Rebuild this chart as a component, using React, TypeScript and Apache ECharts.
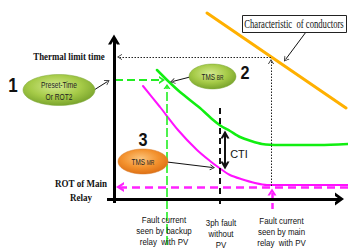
import React, { useEffect, useRef } from "react";
import * as echarts from "echarts";

// Diagram coordinates: x = fault current (origin at axes crossing), y = operating time
const greenCurve = [
  [43, 129], [53, 119], [66, 107], [86, 91], [98, 80], [107, 73], [116, 68],
  [126, 62], [137, 58], [148, 55], [166, 54], [206, 54], [234, 55],
];
const magentaCurve = [
  [29, 113], [46, 92], [64, 69], [83, 49], [96, 38], [104, 32], [116, 24],
  [127, 20], [141, 16], [153, 14], [186, 14], [234, 14],
];
const conductorLine = [[93, 186], [232, 91]];

const yAxisArrow = [[0, -4], [0, 159.5]];
const xAxisArrow = [[-7, 0], [225.5, 0]];
const thermalLimitArrow = [[157, 142], [5.5, 142]];
const thermalDrop = [[157, 13], [157, 137.5]];
const backupHoriz = [[1, 119], [48, 119]];
const backupVert = [[53, -46], [53, 112.5]];
const mainHoriz = [[234, 12], [6, 12]];
const mainVert = [[158, -10], [158, 7]];
const noPvVert = [[106, 91], [106, -9]];
const ctiArrow = [[111, 64.5], [111, 33.5]];
const presetPointer = [[-20, 109], [-6.5, 117.5]];
const tmsBrPointer = [[76, 122], [58.5, 117.5]];
const tmsMrPointer = [[53, 37], [98.5, 31.5]];
const conductorPointer = [[192, 167], [171.5, 139.5]];

const boldChevron = "path://M0,10L5,0L10,10L7.4,10L5,5.2L2.6,10Z";
const thinChevron = "path://M0,10L5,0L10,10L8.6,10L5,2.8L1.4,10Z";

function arrow(points: number[][], color: string, width: number, type: any, startSym: string, endSym: string, size: number[]) {
  return {
    type: "line",
    data: points,
    showSymbol: false,
    symbol: "none",
    silent: true,
    lineStyle: { opacity: 0 },
    markLine: {
      silent: true,
      animation: false,
      symbol: [startSym, endSym],
      symbolSize: size,
      label: { show: false },
      emphasis: { disabled: true },
      lineStyle: { color, width, type, opacity: 1 },
      data: [[{ coord: points[0] }, { coord: points[1] }]],
    },
  };
}

function curve(points: number[][], color: string, width: number, smooth: number) {
  return {
    type: "line",
    data: points,
    showSymbol: false,
    symbol: "none",
    silent: true,
    smooth,
    lineStyle: { color, width, cap: "round" },
  };
}

const SERIF = '"Liberation Serif", "Times New Roman", serif';
const SANS = '"Liberation Sans Narrow", "Liberation Sans", Arial, sans-serif';

function txt(text: string, x: number, y: number, size: number, opts: any = {}) {
  return {
    type: "text",
    x,
    y,
    scaleX: opts.scaleX ?? 1,
    silent: true,
    z: 100,
    style: {
      text,
      fontSize: size,
      fontFamily: opts.family ?? SANS,
      fontWeight: opts.weight ?? "normal",
      fill: opts.color ?? "#111",
      align: "center",
      verticalAlign: "middle",
      textAlign: "center",
      textVerticalAlign: "middle",
      rich: opts.rich,
    },
  };
}

const tmsRich = {
  a: { fontSize: 8.5, fontFamily: SANS, fill: "#222", lineHeight: 10, verticalAlign: "bottom" },
  b: { fontSize: 6.5, fontFamily: SANS, fill: "#222", lineHeight: 10, verticalAlign: "bottom", padding: [0, 0, 0.5, 0] },
};

export default function App() {
  const ref = useRef<HTMLDivElement>(null);
  useEffect(() => {
    if (!ref.current) return;
    const chart = echarts.init(ref.current, null, { renderer: "svg" });
    const mkGreen = () =>
      new echarts.graphic.RadialGradient(0.45, 0.38, 0.65, [
        { offset: 0, color: "#d3e98f" },
        { offset: 0.55, color: "#a6cb48" },
        { offset: 1, color: "#75a02a" },
      ]);
    const orangeFill = new echarts.graphic.RadialGradient(0.45, 0.38, 0.65, [
      { offset: 0, color: "#fbc47c" },
      { offset: 0.55, color: "#f3922e" },
      { offset: 1, color: "#dc6d12" },
    ]);
    chart.setOption({
      animation: false,
      backgroundColor: "#ffffff",
      grid: { left: 0, right: 0, top: 0, bottom: 0 },
      xAxis: { type: "value", min: -114, max: 234, show: false },
      yAxis: { type: "value", min: -53, max: 199, show: false },
      series: [
        arrow(thermalLimitArrow, "#222", 1, [1.5, 1.5], "none", thinChevron, [6, 5]),
        arrow(thermalDrop, "#222", 1, [1.5, 1.5], "none", thinChevron, [6, 5]),
        curve(conductorLine, "#ffb000", 3, 0),
        arrow(backupHoriz, "#22ee22", 2, [8, 4], "none", boldChevron, [8, 6]),
        arrow(backupVert, "#22ee22", 1.6, [9, 3], "none", boldChevron, [7, 5]),
        arrow(noPvVert, "#111", 2, [6, 4], "none", "none", [1, 1]),
        arrow(mainHoriz, "#ff22ff", 2.5, [8, 5], "none", boldChevron, [10, 8]),
        arrow(mainVert, "#ff22ff", 2.5, [6, 4], "none", boldChevron, [9, 7]),
        curve(greenCurve, "#11ee11", 2.5, 0.25),
        curve(magentaCurve, "#ff11ff", 2, 0.25),
        arrow(ctiArrow, "#111", 2, "solid", boldChevron, boldChevron, [9, 8]),
        arrow(presetPointer, "#111", 1, "solid", "none", thinChevron, [6, 5]),
        arrow(tmsBrPointer, "#111", 1, "solid", "none", thinChevron, [6, 5]),
        arrow(tmsMrPointer, "#111", 1, "solid", "none", thinChevron, [6, 5]),
        arrow(conductorPointer, "#111", 1, "solid", "none", thinChevron, [6, 5]),
        arrow(yAxisArrow, "#000", 3, "solid", "none", boldChevron, [12, 10]),
        arrow(xAxisArrow, "#000", 3, "solid", "none", boldChevron, [13, 9]),
      ],
      graphic: [
        txt("Thermal limit time", 69, 56, 11, { family: SERIF, weight: "bold", scaleX: 0.8 }),
        txt("ROT of Main", 81, 183, 11, { family: SERIF, weight: "bold", scaleX: 0.82 }),
        txt("Relay", 81, 197, 11, { family: SERIF, weight: "bold", scaleX: 0.82 }),
        {
          type: "rect",
          shape: { x: 242.5, y: 15.5, width: 104, height: 17 },
          style: { fill: "#fff", stroke: "#222", lineWidth: 1 },
          z: 90,
          silent: true,
        },
        txt("Characteristic  of conductors", 294, 24, 12, { family: SERIF, scaleX: 0.72 }),
        {
          type: "ellipse",
          shape: { cx: 59, cy: 90, rx: 36, ry: 15.5 },
          style: { fill: mkGreen(), stroke: "#7ea83a", lineWidth: 0.5 },
          z: 95,
          silent: true,
        },
        txt("Preset-Time", 59, 85, 8.5, { scaleX: 0.78, color: "#222" }),
        txt("Or ROT2", 59, 97, 8.5, { scaleX: 0.78, color: "#222" }),
        {
          type: "ellipse",
          shape: { cx: 212.5, cy: 76.5, rx: 23.5, ry: 12.5 },
          style: { fill: mkGreen(), stroke: "#7ea83a", lineWidth: 0.5 },
          z: 95,
          silent: true,
        },
        txt("{a|TMS} {b|BR}", 212.5, 77, 8.5, { scaleX: 0.75, rich: tmsRich }),
        {
          type: "ellipse",
          shape: { cx: 143, cy: 161.5, rx: 25, ry: 12.5 },
          style: { fill: orangeFill, stroke: "#d77a2a", lineWidth: 0.5 },
          z: 95,
          silent: true,
        },
        txt("{a|TMS} {b|MR}", 143, 162, 8.5, { scaleX: 0.75, rich: tmsRich }),
        txt("1", 13, 85, 20, { weight: "bold", scaleX: 0.85, color: "#111" }),
        txt("2", 245, 73, 18, { weight: "bold", scaleX: 0.9, color: "#111" }),
        txt("3", 143, 140, 18, { weight: "bold", scaleX: 0.9, color: "#111" }),
        txt("CTI", 239, 154, 11.5, { scaleX: 0.95, color: "#111" }),
        txt("Fault current", 164, 220, 9, { scaleX: 0.88 }),
        txt("seen by backup", 164, 231, 9, { scaleX: 0.88 }),
        txt("relay  with PV", 164, 242, 9, { scaleX: 0.88 }),
        txt("3ph fault", 221, 223, 9, { scaleX: 0.88 }),
        txt("without", 221, 234, 9, { scaleX: 0.88 }),
        txt("PV", 221, 245, 9, { scaleX: 0.88 }),
        txt("Fault current", 281.5, 221, 9, { scaleX: 0.88 }),
        txt("seen by main", 281.5, 232, 9, { scaleX: 0.88 }),
        txt("relay  with PV", 281.5, 243, 9, { scaleX: 0.88 }),
      ],
    });
    return () => chart.dispose();
  }, []);
  return (
    <div
      ref={ref}
      style={{ position: "fixed", left: 0, top: 0, width: 348, height: 252, background: "#fff" }}
    />
  );
}
